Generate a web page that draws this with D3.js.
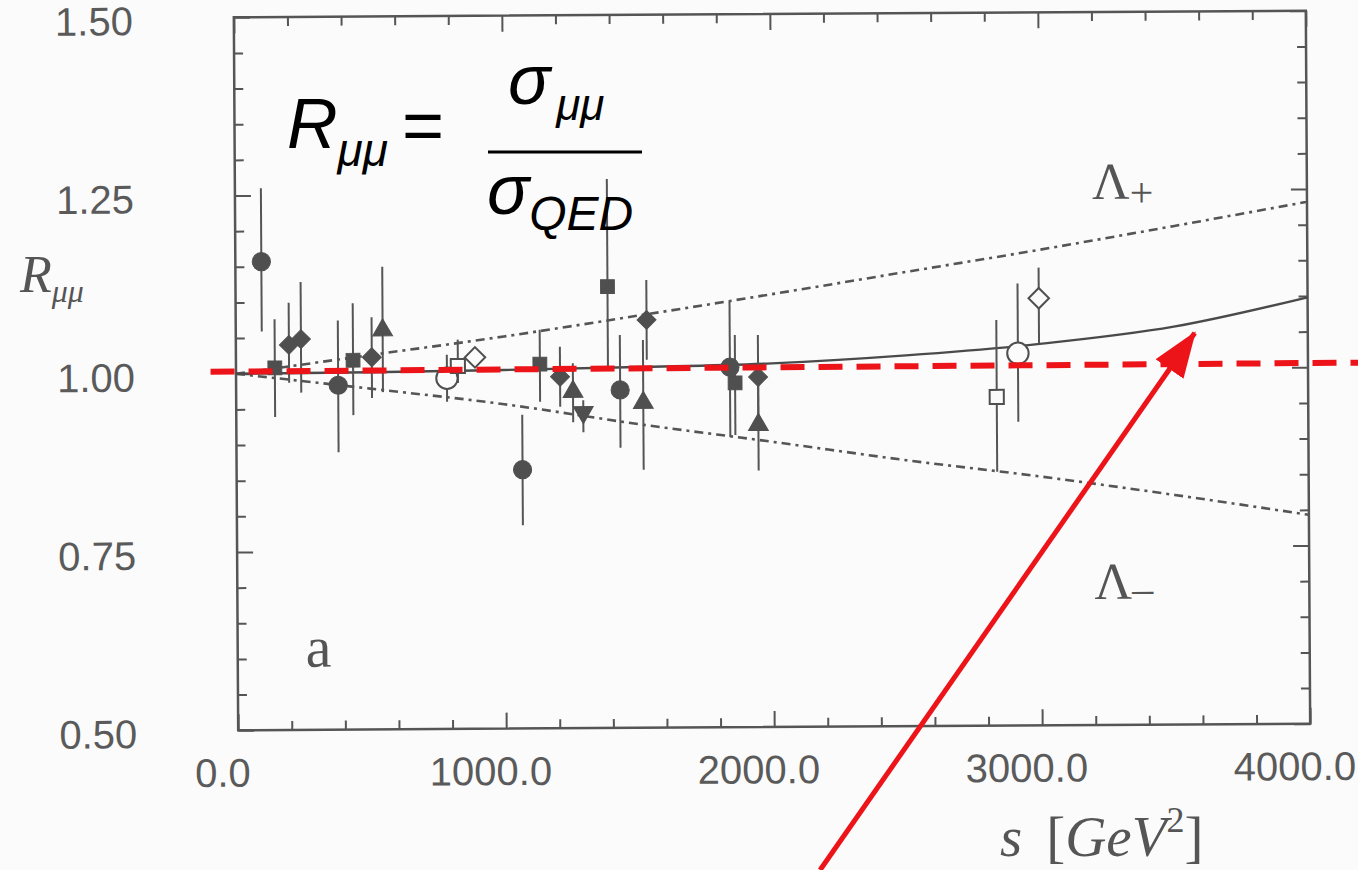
<!DOCTYPE html>
<html>
<head>
<meta charset="utf-8">
<script src="https://cdn.jsdelivr.net/npm/d3@7"></script>
<style>
  body { margin: 0; background: #fbfbfb; }
  svg { display: block; }
</style>
</head>
<body>
<svg id="chart" width="1358" height="870"></svg>
<script>
// measured points, s in GeV^2
const sData = [97, 145, 198, 243, 381, 437, 507, 548, 787, 828, 892, 1134, 1067, 1209, 1257, 1295, 1388, 1433, 1519, 1533, 1843, 1862, 1948, 1948, 2838, 2918, 2997];
const rData = [1.157, 1.008, 1.040, 1.048, 0.983, 1.018, 1.022, 1.060, 0.992, 1.009, 1.021, 1.011, 0.863, 0.993, 0.972, 0.943, 1.119, 0.974, 0.956, 1.072, 1.005, 0.983, 0.991, 0.924, 0.961, 1.022, 1.099];
const rHigh = [1.260, 1.076, 1.099, 1.128, 1.074, 1.098, 1.078, 1.149, 1.025, 1.046, 1.034, 1.059, 0.940, 1.035, 1.012, 0.960, 1.270, 1.051, 1.044, 1.128, 1.097, 1.050, 1.050, 0.987, 1.069, 1.120, 1.142];
const rLow = [1.059, 0.939, 0.987, 0.973, 0.889, 0.941, 0.965, 0.973, 0.959, 0.985, 1.013, 0.958, 0.785, 0.951, 0.929, 0.915, 1.006, 0.893, 0.862, 1.016, 0.907, 0.910, 0.931, 0.860, 0.856, 0.926, 1.036];
const markers = ["circle", "square", "diamond", "diamond", "circle", "square", "diamond", "triangle",
  "openCircle", "openSquare", "openDiamond", "square", "circle", "diamond", "triangle", "triangleDown",
  "square", "circle", "triangle", "diamond", "circle", "square", "diamond", "triangle",
  "openSquare", "openCircle", "openDiamond"];

// theory curves
const curveS = [0, 500, 1000, 1500, 2000, 2500, 3000, 3500, 4000];
const smCurve = [1.000, 1.001, 1.003, 1.006, 1.010, 1.020, 1.035, 1.058, 1.098];
const lambdaPlus = [1.000, 1.025, 1.050, 1.078, 1.107, 1.137, 1.167, 1.199, 1.232];
const lambdaMinus = [1.000, 0.978, 0.955, 0.926, 0.900, 0.873, 0.849, 0.822, 0.793];

// red overlay: reference line and arrow (data coords)
const refLine = [[-95, 1.003], [4200, 1.006]];
const arrow = [[2168, 0.299], [3578, 1.049]];

const xTicksMajor = [0, 1000, 2000, 3000, 4000];
const yTicksMajor = [0.5, 0.75, 1.0, 1.25, 1.5];

const svg = d3.select("#chart");

const plotLeft = 236, plotRight = 1308, plotTop = 14, plotBottom = 727;

const x = d3.scaleLinear().domain([0, 4000]).range([plotLeft, plotRight]);
const y = d3.scaleLinear().domain([0.5, 1.5]).range([plotBottom, plotTop]);

// the scanned page is a little tilted
const g = svg.append("g").attr("transform", "rotate(-0.35,772,370)");

const ink = "#555";

// ticks (inward, all four sides)
const xMinor = d3.range(0, 4001, 200);
const yMinor = d3.range(0.5, 1.5001, 0.05);
function isMajorX(d) { return d % 1000 === 0; }
function isMajorY(d) { return Math.abs(d * 4 - Math.round(d * 4)) < 1e-6; }

g.append("g")
  .attr("transform", "translate(0," + plotBottom + ")")
  .call(d3.axisBottom(x).tickValues(xMinor).tickSizeOuter(0).tickFormat(""))
  .call(s => s.select(".domain").remove())
  .selectAll("line")
  .attr("y2", d => isMajorX(d) ? -16 : -9)
  .attr("stroke", ink).attr("stroke-width", 2);

g.append("g")
  .attr("transform", "translate(0," + plotTop + ")")
  .call(d3.axisTop(x).tickValues(xMinor).tickSizeOuter(0).tickFormat(""))
  .call(s => s.select(".domain").remove())
  .selectAll("line")
  .attr("y2", d => isMajorX(d) ? 16 : 9)
  .attr("stroke", ink).attr("stroke-width", 2);

g.append("g")
  .attr("transform", "translate(" + plotLeft + ",0)")
  .call(d3.axisLeft(y).tickValues(yMinor).tickSizeOuter(0).tickFormat(""))
  .call(s => s.select(".domain").remove())
  .selectAll("line")
  .attr("x2", d => isMajorY(d) ? 16 : 9)
  .attr("stroke", ink).attr("stroke-width", 2);

g.append("g")
  .attr("transform", "translate(" + plotRight + ",0)")
  .call(d3.axisRight(y).tickValues(yMinor).tickSizeOuter(0).tickFormat(""))
  .call(s => s.select(".domain").remove())
  .selectAll("line")
  .attr("x2", d => isMajorY(d) ? -16 : -9)
  .attr("stroke", ink).attr("stroke-width", 2);

// frame
g.append("rect")
  .attr("x", plotLeft).attr("y", plotTop)
  .attr("width", plotRight - plotLeft).attr("height", plotBottom - plotTop)
  .attr("fill", "none").attr("stroke", ink).attr("stroke-width", 2.5);

// tick labels
const xLab = g.append("g")
  .attr("transform", "translate(-16," + plotBottom + ")")
  .call(d3.axisBottom(x).tickValues(xTicksMajor).tickSize(0).tickPadding(28).tickFormat(d3.format(".1f")));
xLab.select(".domain").remove();
xLab.selectAll("text")
  .attr("font-family", "Liberation Sans, Arial, sans-serif")
  .attr("font-size", 40).attr("fill", "#5a5a5a");

const yLab = g.append("g")
  .attr("transform", "translate(" + plotLeft + ",4)")
  .call(d3.axisLeft(y).tickValues(yTicksMajor).tickSize(0).tickPadding(101).tickFormat(d3.format(".2f")));
yLab.select(".domain").remove();
yLab.selectAll("text")
  .attr("font-family", "Liberation Sans, Arial, sans-serif")
  .attr("font-size", 40).attr("fill", "#5a5a5a");

// theory curves
const line = d3.line()
  .x((d, i) => x(curveS[i]))
  .y(d => y(d))
  .curve(d3.curveMonotoneX);

g.append("path").datum(lambdaPlus)
  .attr("d", line).attr("fill", "none")
  .attr("stroke", "#555").attr("stroke-width", 2.6)
  .attr("stroke-dasharray", "9,5,3,5");

g.append("path").datum(lambdaMinus)
  .attr("d", line).attr("fill", "none")
  .attr("stroke", "#555").attr("stroke-width", 2.6)
  .attr("stroke-dasharray", "9,5,3,5");

g.append("path").datum(smCurve)
  .attr("d", line).attr("fill", "none")
  .attr("stroke", "#4a4a4a").attr("stroke-width", 2.4);

// error bars
g.append("g").selectAll("line")
  .data(sData)
  .join("line")
  .attr("x1", d => x(d)).attr("x2", d => x(d))
  .attr("y1", (d, i) => y(rHigh[i]))
  .attr("y2", (d, i) => y(rLow[i]))
  .attr("stroke", "#555").attr("stroke-width", 2);

// markers
const symbolFor = {
  circle: { type: d3.symbolCircle, size: 260, fill: true, rot: 0 },
  square: { type: d3.symbolSquare, size: 190, fill: true, rot: 0 },
  diamond: { type: d3.symbolSquare, size: 180, fill: true, rot: 45 },
  triangle: { type: d3.symbolTriangle, size: 170, fill: true, rot: 0 },
  triangleDown: { type: d3.symbolTriangle, size: 170, fill: true, rot: 180 },
  openCircle: { type: d3.symbolCircle, size: 360, fill: false, rot: 0 },
  openSquare: { type: d3.symbolSquare, size: 200, fill: false, rot: 0 },
  openDiamond: { type: d3.symbolSquare, size: 210, fill: false, rot: 45 }
};

g.append("g").selectAll("path")
  .data(sData)
  .join("path")
  .attr("d", (d, i) => d3.symbol().type(symbolFor[markers[i]].type).size(symbolFor[markers[i]].size)())
  .attr("transform", (d, i) => "translate(" + x(d) + "," + y(rData[i]) + ") rotate(" + symbolFor[markers[i]].rot + ")")
  .attr("fill", (d, i) => symbolFor[markers[i]].fill ? "#4f4f4f" : "#fbfbfb")
  .attr("stroke", "#4f4f4f")
  .attr("stroke-width", (d, i) => symbolFor[markers[i]].fill ? 1 : 2);

// labels inside the frame
const serif = "Liberation Serif, Times New Roman, serif";

const lp = g.append("text").attr("x", 1093).attr("y", 201)
  .attr("font-family", serif).attr("font-size", 52).attr("fill", ink);
lp.append("tspan").text("\u039B");
lp.append("tspan").attr("font-size", 42).attr("dy", 8).text("+");

const lm = g.append("text").attr("x", 1093).attr("y", 601)
  .attr("font-family", serif).attr("font-size", 52).attr("fill", ink);
lm.append("tspan").text("\u039B");
lm.append("tspan").attr("font-size", 42).attr("dy", 4).text("\u2013");

g.append("text").attr("x", 304).attr("y", 664)
  .attr("font-family", serif).attr("font-size", 58).attr("fill", ink)
  .text("a");

// axis titles
const yt = svg.append("text").attr("x", 20).attr("y", 292)
  .attr("font-family", serif).attr("font-style", "italic")
  .attr("font-size", 52).attr("fill", ink);
yt.append("tspan").text("R");
yt.append("tspan").attr("font-size", 32).attr("dy", 10).text("\u03BC\u03BC");

const xt = svg.append("text").attr("x", 1000).attr("y", 856)
  .attr("font-family", serif).attr("font-style", "italic")
  .attr("font-size", 57).attr("fill", ink);
xt.append("tspan").text("s");
xt.append("tspan").attr("dx", 24).attr("font-style", "normal").text("[");
xt.append("tspan").text("GeV");
xt.append("tspan").attr("font-size", 36).attr("font-style", "normal").attr("dy", -24).text("2");
xt.append("tspan").attr("font-style", "normal").attr("dy", 24).text("]");

// formula
const sans = "Liberation Sans, Arial, sans-serif";
const f1 = svg.append("text").attr("x", 287).attr("y", 148)
  .attr("font-family", sans).attr("font-style", "italic").attr("font-size", 70).attr("fill", "#000");
f1.append("tspan").text("R");
f1.append("tspan").attr("font-size", 46).attr("dy", 18).text("\u03BC\u03BC");

svg.append("text").attr("x", 402).attr("y", 150)
  .attr("font-family", sans).attr("font-size", 72).attr("fill", "#000")
  .text("=");

const num = svg.append("text").attr("x", 508).attr("y", 104)
  .attr("font-family", sans).attr("font-style", "italic").attr("font-size", 70).attr("fill", "#000");
num.append("tspan").text("\u03C3");
num.append("tspan").attr("font-size", 44).attr("dy", 16).attr("dx", 6).text("\u03BC\u03BC");

svg.append("line").attr("x1", 488).attr("x2", 642).attr("y1", 152).attr("y2", 152)
  .attr("stroke", "#000").attr("stroke-width", 3);

const den = svg.append("text").attr("x", 487).attr("y", 214)
  .attr("font-family", sans).attr("font-style", "italic").attr("font-size", 70).attr("fill", "#000");
den.append("tspan").text("\u03C3");
den.append("tspan").attr("font-size", 48).attr("dy", 16).text("QED");

// red overlay
const red = "#ec1319";
g.append("line")
  .attr("x1", x(refLine[0][0])).attr("y1", y(refLine[0][1]))
  .attr("x2", x(refLine[1][0])).attr("y2", y(refLine[1][1]))
  .attr("stroke", red).attr("stroke-width", 6)
  .attr("stroke-dasharray", "24,14");

svg.append("defs").append("marker")
  .attr("id", "head").attr("markerUnits", "userSpaceOnUse")
  .attr("viewBox", "0 -18 46 36").attr("refX", 44).attr("refY", 0)
  .attr("markerWidth", 46).attr("markerHeight", 36).attr("orient", "auto")
  .append("path").attr("d", "M0,-17L46,0L0,17Z").attr("fill", red);

g.append("line")
  .attr("x1", x(arrow[0][0])).attr("y1", y(arrow[0][1]))
  .attr("x2", x(arrow[1][0])).attr("y2", y(arrow[1][1]))
  .attr("stroke", red).attr("stroke-width", 5)
  .attr("marker-end", "url(#head)");
</script>
</body>
</html>
